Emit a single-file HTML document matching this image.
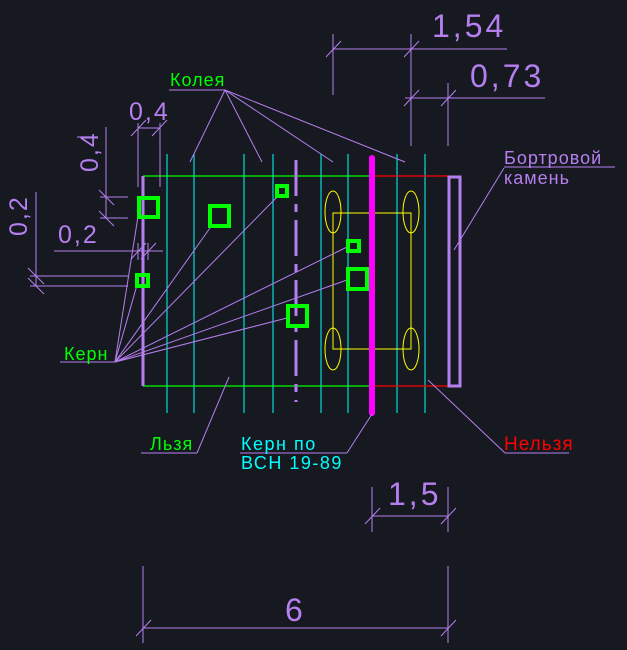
<!DOCTYPE html>
<html><head><meta charset="utf-8"><style>
html,body{margin:0;padding:0;background:#16191f;}
svg{display:block}
text{font-family:"Liberation Sans","DejaVu Sans",sans-serif;}
</style></head><body>
<svg width="627" height="650" viewBox="0 0 627 650" xmlns="http://www.w3.org/2000/svg">
<rect width="627" height="650" fill="#16191f"/>
<g stroke="#00ffff" stroke-width="1">
<line x1="167" y1="154" x2="167" y2="413"/><line x1="194" y1="154" x2="194" y2="413"/>
<line x1="244" y1="154" x2="244" y2="413"/><line x1="273" y1="154" x2="273" y2="413"/>
<line x1="321" y1="154" x2="321" y2="413"/><line x1="348" y1="154" x2="348" y2="413"/>
<line x1="397" y1="154" x2="397" y2="413"/><line x1="425" y1="154" x2="425" y2="413"/>
</g>
<g stroke="#00ff00" stroke-width="1.2"><line x1="143" y1="176" x2="370" y2="176"/><line x1="143" y1="386" x2="370" y2="386"/></g>
<g stroke="#ff0000" stroke-width="1.2"><line x1="370" y1="176" x2="448" y2="176"/><line x1="370" y1="386" x2="448" y2="386"/></g>
<g stroke="#ffff00" stroke-width="1" fill="none">
<rect x="333" y="213" width="78" height="136"/>
<ellipse cx="333" cy="212" rx="8" ry="21"/><ellipse cx="411" cy="212" rx="8" ry="21"/>
<ellipse cx="333" cy="349" rx="8" ry="21"/><ellipse cx="411" cy="349" rx="8" ry="21"/>
</g>
<line x1="143" y1="176" x2="143" y2="386" stroke="#b67ff0" stroke-width="3"/>
<rect x="449" y="177" width="11" height="209" fill="none" stroke="#b67ff0" stroke-width="3"/>
<line x1="296" y1="160" x2="296" y2="402" stroke="#b67ff0" stroke-width="3" stroke-dasharray="36,8,8,8"/>
<line x1="372" y1="158" x2="372" y2="413" stroke="#ff00ff" stroke-width="6" stroke-linecap="round"/>
<g stroke="#b67ff0" stroke-width="1" fill="none">
<line x1="115" y1="362" x2="60" y2="362"/>
<line x1="115" y1="362" x2="139" y2="210"/><line x1="115" y1="362" x2="137" y2="285"/>
<line x1="115" y1="362" x2="210" y2="228"/><line x1="115" y1="362" x2="277" y2="197"/>
<line x1="115" y1="362" x2="287" y2="318"/><line x1="115" y1="362" x2="347" y2="247"/>
<line x1="115" y1="362" x2="347" y2="280"/>
<line x1="169" y1="90" x2="225" y2="90"/>
<line x1="225" y1="90" x2="190" y2="162"/><line x1="225" y1="90" x2="262" y2="162"/>
<line x1="225" y1="90" x2="333" y2="162"/><line x1="225" y1="90" x2="405" y2="162"/>
<line x1="333" y1="49" x2="507" y2="49"/><line x1="333" y1="34" x2="333" y2="95"/><line x1="411" y1="34" x2="411" y2="146"/>
<line x1="326" y1="57" x2="341" y2="41"/><line x1="404" y1="57" x2="419" y2="41"/>
<line x1="405" y1="98" x2="545" y2="98"/><line x1="448" y1="83" x2="448" y2="146"/>
<line x1="404" y1="106" x2="419" y2="90"/><line x1="441" y1="106" x2="456" y2="90"/>
<line x1="138" y1="123" x2="138" y2="187"/><line x1="160" y1="123" x2="160" y2="187"/>
<line x1="138" y1="128" x2="160" y2="128"/>
<line x1="131" y1="136" x2="146" y2="120"/><line x1="152" y1="136" x2="167" y2="120"/>
<line x1="100" y1="197" x2="128" y2="197"/><line x1="100" y1="218" x2="128" y2="218"/>
<line x1="106" y1="127" x2="106" y2="218"/><line x1="77" y1="137" x2="98" y2="137"/>
<line x1="99" y1="190" x2="114" y2="205"/><line x1="99" y1="211" x2="114" y2="226"/>
<line x1="54" y1="251" x2="163" y2="251"/><line x1="138" y1="243" x2="138" y2="260"/><line x1="148" y1="243" x2="148" y2="260"/>
<line x1="131" y1="259" x2="146" y2="243"/><line x1="141" y1="259" x2="156" y2="243"/>
<line x1="30" y1="276" x2="128" y2="276"/><line x1="30" y1="286" x2="128" y2="286"/>
<line x1="36" y1="192" x2="36" y2="286"/>
<line x1="28" y1="268" x2="44" y2="284"/><line x1="28" y1="278" x2="44" y2="294"/>
<line x1="141" y1="453" x2="197" y2="453"/><line x1="197" y1="453" x2="229" y2="377"/>
<line x1="240" y1="453" x2="347" y2="453"/><line x1="347" y1="453" x2="372" y2="414"/>
<line x1="505" y1="453" x2="569" y2="453"/><line x1="505" y1="453" x2="428" y2="380"/>
<line x1="504" y1="167" x2="615" y2="167"/><line x1="504" y1="168" x2="454" y2="250"/>
<line x1="372" y1="487" x2="372" y2="532"/><line x1="448" y1="487" x2="448" y2="532"/>
<line x1="372" y1="516" x2="448" y2="516"/>
<line x1="365" y1="524" x2="380" y2="508"/><line x1="441" y1="524" x2="456" y2="508"/>
<line x1="143" y1="566" x2="143" y2="643"/><line x1="448" y1="566" x2="448" y2="643"/>
<line x1="143" y1="628" x2="448" y2="628"/>
<line x1="136" y1="636" x2="151" y2="620"/><line x1="441" y1="636" x2="456" y2="620"/>
</g>
<g stroke="#00ff00" stroke-width="4" fill="none">
<rect x="139" y="198" width="19" height="19"/><rect x="210" y="206" width="19" height="20"/>
<rect x="277" y="186" width="10" height="10"/><rect x="137" y="275" width="11" height="11"/>
<rect x="288" y="306" width="19" height="20"/><rect x="348" y="241" width="11" height="10"/>
<rect x="348" y="269" width="19" height="20"/>
</g>
<g fill="#00ff00" font-size="18" letter-spacing="1"><text x="170" y="86">Колея</text><text x="64" y="360">Керн</text><text x="150" y="450">Льзя</text></g>
<g fill="#00ffff" font-size="18" letter-spacing="1.5"><text x="241" y="450">Керн по</text><text x="241" y="469">ВСН 19-89</text></g>
<text x="504" y="450" fill="#ff0000" font-size="19" letter-spacing="1">Нельзя</text>
<g fill="#b67ff0" font-size="18" letter-spacing="1"><text x="504" y="164">Бортровой</text><text x="504" y="184">камень</text></g>
<g fill="#b67ff0" font-size="32" letter-spacing="3">
<text x="432" y="37">1,54</text><text x="470" y="87">0,73</text>
<text x="388" y="505">1,5</text><text x="285" y="621">6</text>
</g>
<g fill="#b67ff0" font-size="25" letter-spacing="2">
<text x="129" y="120">0,4</text><text x="58" y="243">0,2</text>
<text transform="translate(98,172) rotate(-90)">0,4</text>
<text transform="translate(27,236) rotate(-90)">0,2</text>
</g>
</svg>
</body></html>
